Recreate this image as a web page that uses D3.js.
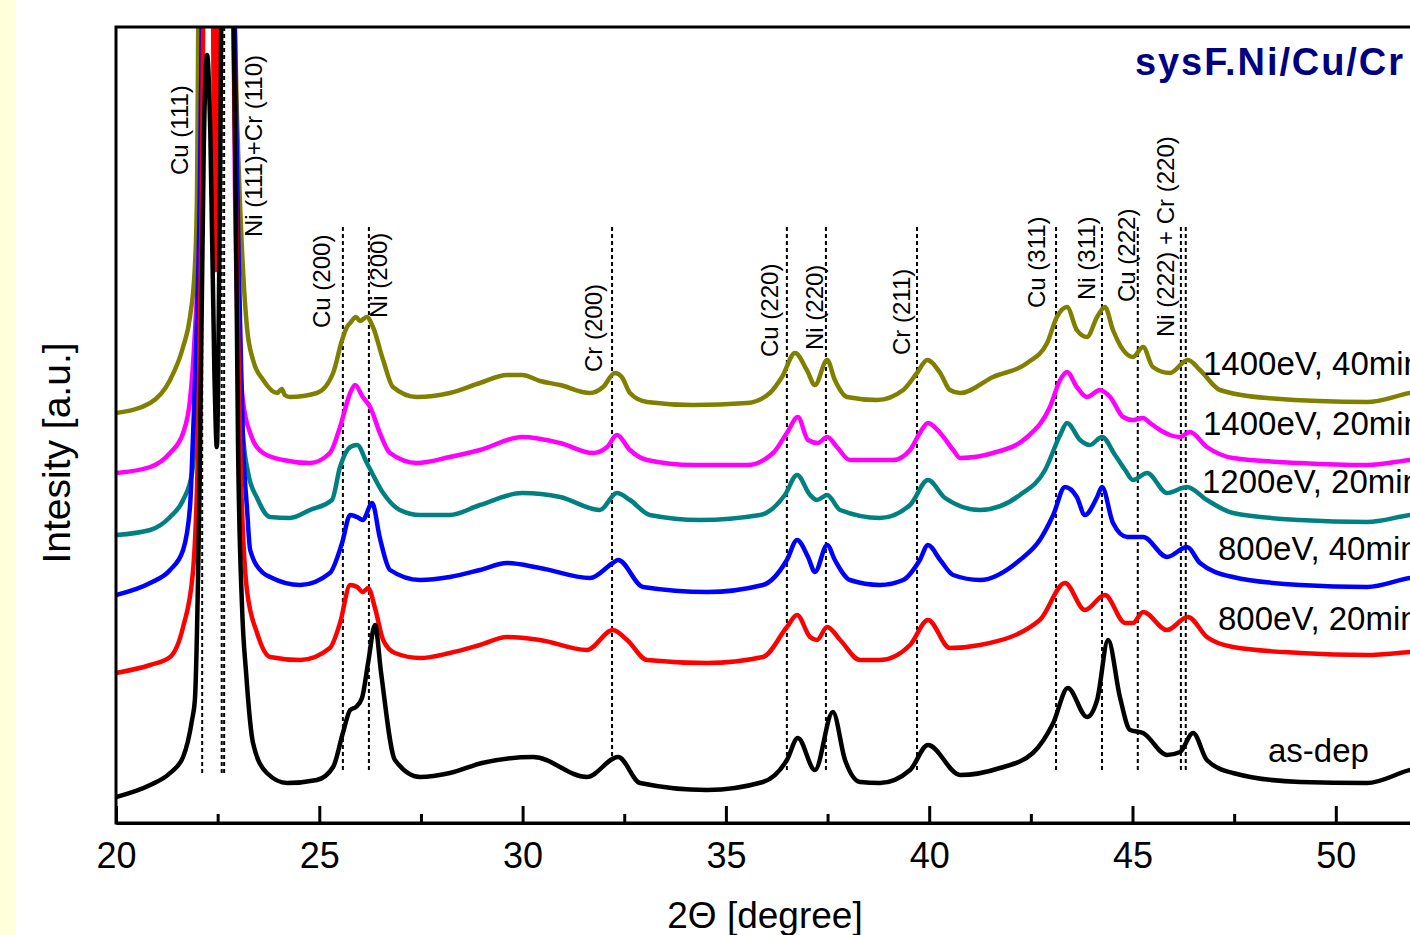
<!DOCTYPE html>
<html>
<head>
<meta charset="utf-8">
<script src="https://cdn.jsdelivr.net/npm/d3@7"></script>
<style>
  body { margin: 0; background: #fff; }
  svg { display: block; font-family: "Liberation Sans", Arial, sans-serif; }
</style>
</head>
<body>
<svg width="1410" height="935"></svg>
<script>
// XRD patterns, sysF.Ni/Cu/Cr. Values are [2theta, intensity (a.u.)]
var seriesLabels = ["1400eV, 40min", "1400eV, 20min", "1200eV, 20min", "800eV, 40min", "800eV, 20min", "as-dep"];
var seriesColors = ["#808000", "#ff00ff", "#008080", "#0000ff", "#ff0000", "#000000"];

var olive = [[20.00,410],[20.84,420],[21.33,443],[21.65,476],[21.82,506],[21.94,556],[21.99,623],[22.05,900],[22.85,900],[22.98,700],[23.12,556],[23.22,496],[23.37,463],[23.62,443],[23.96,430],[24.08,434],[24.15,428],[24.28,426],[24.94,430],[25.34,450],[25.56,483],[25.68,496],[25.76,500],[25.90,506],[26.00,502],[26.17,506],[26.32,496],[26.57,463],[26.81,436],[27.40,426],[28.21,430],[28.95,440],[29.62,448],[29.99,448],[30.43,442],[30.92,438],[31.66,430],[31.98,436],[32.27,450],[32.44,446],[32.64,430],[33.06,421],[34.19,418],[35.52,420],[36.08,430],[36.38,446],[36.70,470],[36.99,453],[37.19,438],[37.49,463],[37.68,443],[37.98,426],[38.72,423],[39.36,433],[39.70,450],[39.95,463],[40.27,450],[40.51,433],[40.76,430],[41.57,446],[42.41,460],[42.90,480],[43.14,506],[43.39,516],[43.63,493],[43.88,486],[44.13,506],[44.32,516],[44.52,493],[44.77,473],[45.01,466],[45.26,476],[45.50,456],[45.92,450],[46.36,463],[46.66,453],[47.15,433],[48.31,425],[50.77,421],[51.83,430],[52.5,434]];

var magenta = [[20.00,350],[20.84,356],[21.33,370],[21.65,390],[21.82,423],[21.94,490],[22.07,623],[22.14,900],[22.36,900],[22.45,730],[22.54,900],[22.86,900],[22.93,623],[23.00,490],[23.12,423],[23.30,390],[23.62,370],[24.11,363],[24.77,360],[25.26,370],[25.51,396],[25.76,430],[25.88,438],[26.07,426],[26.25,416],[26.49,390],[26.74,370],[27.40,360],[28.21,366],[28.95,373],[29.99,386],[30.92,380],[31.73,370],[32.08,376],[32.32,388],[32.64,373],[33.06,363],[34.19,358],[35.52,358],[36.16,370],[36.50,390],[36.77,406],[37.02,383],[37.26,380],[37.49,386],[37.73,376],[38.05,363],[39.11,363],[39.53,373],[39.77,390],[39.97,400],[40.27,390],[40.59,373],[40.76,365],[41.57,370],[42.41,386],[42.97,416],[43.22,443],[43.39,451],[43.63,436],[43.88,426],[44.20,433],[44.45,426],[44.77,406],[45.01,403],[45.26,405],[45.43,400],[45.68,393],[45.92,388],[46.17,386],[46.41,391],[46.83,376],[47.47,365],[49.12,360],[50.77,358],[51.83,363],[52.5,366]];

var teal = [[20.00,288],[20.84,293],[21.33,306],[21.65,323],[21.87,350],[21.94,383],[22.05,560],[22.15,900],[22.36,900],[22.45,693],[22.54,900],[22.85,900],[23.00,560],[23.12,390],[23.25,350],[23.47,325],[23.79,306],[24.28,305],[24.77,313],[25.31,323],[25.51,356],[25.76,376],[25.93,378],[26.17,360],[26.57,330],[26.98,313],[27.48,308],[28.21,308],[28.95,318],[29.99,330],[30.92,326],[31.90,313],[32.32,330],[32.64,323],[33.13,308],[34.36,303],[35.84,308],[36.45,328],[36.75,348],[37.07,328],[37.24,323],[37.49,328],[37.81,313],[38.79,305],[39.53,318],[39.97,343],[40.39,325],[41.25,313],[42.23,328],[42.85,353],[43.22,388],[43.39,400],[43.71,383],[43.95,378],[44.25,386],[44.57,368],[44.82,353],[45.01,343],[45.36,350],[45.85,330],[46.34,336],[46.83,323],[47.47,310],[49.12,303],[50.77,301],[51.83,308],[52.5,311]];

var blue = [[20.00,228],[20.84,240],[21.33,253],[21.65,273],[21.82,316],[21.89,383],[22.05,600],[22.16,900],[22.36,900],[22.45,623],[22.54,900],[22.84,900],[23.02,560],[23.12,383],[23.22,316],[23.30,273],[23.62,250],[23.79,246],[24.53,238],[25.26,250],[25.56,280],[25.76,308],[25.93,306],[26.07,303],[26.30,320],[26.49,285],[26.74,253],[27.48,243],[28.21,246],[28.95,253],[29.62,260],[30.43,255],[31.66,245],[32.22,260],[32.35,263],[32.96,236],[34.54,231],[35.91,238],[36.50,263],[36.75,283],[37.02,266],[37.19,251],[37.49,278],[37.68,263],[38.05,243],[38.79,238],[39.36,243],[39.77,263],[39.97,278],[40.27,263],[40.59,248],[41.25,243],[42.23,263],[42.72,283],[43.05,308],[43.34,336],[43.63,326],[43.83,308],[44.13,326],[44.25,336],[44.52,300],[44.87,286],[45.26,286],[45.85,266],[46.34,276],[46.66,260],[47.47,246],[49.12,238],[50.77,236],[51.83,245],[52.5,248]];

var red = [[20.00,150],[20.84,158],[21.33,166],[21.65,196],[21.89,250],[22.02,383],[22.10,600],[22.18,900],[22.36,900],[22.45,553],[22.54,900],[22.82,900],[22.96,600],[23.05,383],[23.22,233],[23.47,190],[23.79,166],[24.53,163],[25.26,175],[25.51,200],[25.76,238],[25.93,236],[26.07,231],[26.20,235],[26.37,215],[26.57,183],[26.86,170],[27.48,165],[28.21,170],[28.95,178],[29.62,186],[30.43,183],[31.58,173],[32.22,193],[32.57,183],[33.06,163],[34.54,160],[35.91,166],[36.50,196],[36.75,208],[37.07,186],[37.24,183],[37.49,196],[37.81,183],[38.30,163],[38.79,163],[39.53,178],[39.97,203],[40.51,175],[41.25,178],[42.72,203],[43.34,240],[43.83,213],[44.32,228],[44.82,200],[45.01,200],[45.26,211],[45.85,193],[46.36,206],[46.83,186],[47.47,176],[49.12,170],[50.77,168],[51.83,171],[52.5,173]];

var black = [[20.00,26],[20.84,38],[21.33,50],[21.65,66],[21.87,103],[21.94,123],[22.06,350],[22.16,680],[22.24,768],[22.32,690],[22.42,450],[22.48,376],[22.55,600],[22.62,900],[22.84,900],[22.95,600],[23.00,383],[23.10,216],[23.20,150],[23.37,80],[23.71,50],[24.21,40],[24.94,43],[25.34,56],[25.58,90],[25.76,113],[25.90,116],[26.05,125],[26.20,160],[26.37,198],[26.52,150],[26.86,63],[27.48,46],[28.21,50],[29.00,60],[30.26,66],[31.58,46],[32.35,66],[32.89,40],[34.54,33],[35.91,41],[36.50,63],[36.77,85],[37.19,53],[37.63,111],[37.93,63],[38.30,41],[38.79,40],[39.53,53],[39.97,78],[40.76,48],[41.74,55],[42.55,70],[43.05,100],[43.41,135],[43.88,106],[44.13,123],[44.40,183],[44.69,126],[44.94,93],[45.26,90],[45.85,68],[46.17,71],[46.49,90],[46.83,63],[47.47,50],[49.12,41],[50.77,40],[51.83,53],[52.5,58]];

var seriesData = [olive, magenta, teal, blue, red, black];

// reflection markers
var peakPos = [22.12, 22.60, 22.66, 25.58, 26.22, 32.20, 36.50, 37.46, 39.70, 43.12, 44.25, 45.13, 46.19, 46.31];
var peakLabels = ["Cu (111)", "Ni (111)+Cr (110)", "Cu (200)", "Ni (200)", "Cr (200)", "Cu (220)", "Ni (220)", "Cr (211)", "Cu (311)", "Ni (311)", "Cu (222)", "Ni (222) + Cr (220)"];

var majorTicks = [20, 25, 30, 35, 40, 45, 50];
var minorTicks = [22.5, 27.5, 32.5, 37.5, 42.5, 47.5];

var svg = d3.select("svg"),
    width = +svg.attr("width"),
    height = +svg.attr("height");

var plotLeft = 116, plotTop = 27, plotBottom = 823;

var x = d3.scaleLinear().domain([20, 55]).range([plotLeft, plotLeft + 35 * 40.66]);
var y = d3.scaleLinear().domain([0, 796]).range([plotBottom, plotTop]);
var plotW = x(55) - plotLeft, plotH = plotBottom - plotTop;

// pale strip on the left edge
svg.append("rect").attr("x", 0).attr("y", 0).attr("width", 16).attr("height", height).attr("fill", "#ffffdc");

svg.append("clipPath").attr("id", "plot")
  .append("rect").attr("x", plotLeft).attr("y", plotTop).attr("width", plotW).attr("height", plotH);

// dotted reflection lines: the first three reach the frame top, the rest start under their labels
svg.append("g").selectAll("line")
  .data(peakPos)
  .enter().append("line")
    .attr("x1", function(d) { return x(d); })
    .attr("x2", function(d) { return x(d); })
    .attr("y1", function(d, i) { return i < 3 ? plotTop : 227; })
    .attr("y2", function(d, i) { return i == 5 ? 757 : 773; })
    .attr("stroke", "#000")
    .attr("stroke-width", 2)
    .attr("stroke-dasharray", "4,3");

var line = d3.line()
    .x(function(d) { return x(d[0]); })
    .y(function(d) { return y(d[1]); })
    .curve(d3.curveMonotoneX);

svg.append("g").attr("clip-path", "url(#plot)")
  .selectAll("path")
  .data(seriesData)
  .enter().append("path")
    .attr("d", line)
    .attr("fill", "none")
    .attr("stroke", function(d, i) { return seriesColors[i]; })
    .attr("stroke-width", 4.5)
    .attr("stroke-linejoin", "round");

// frame
svg.append("rect")
  .attr("x", plotLeft).attr("y", plotTop)
  .attr("width", plotW).attr("height", plotH)
  .attr("fill", "none").attr("stroke", "#000").attr("stroke-width", 3);

// bottom axis, ticks pointing inward
var xAxis = svg.append("g")
  .attr("transform", "translate(0," + plotBottom + ")")
  .call(d3.axisBottom(x).tickValues(majorTicks).tickSizeInner(-17).tickSizeOuter(0).tickPadding(19));
xAxis.select(".domain").attr("stroke-width", 3);
xAxis.selectAll(".tick line").attr("stroke-width", 3);
xAxis.selectAll(".tick text").attr("font-size", 36).attr("font-family", "Liberation Sans, Arial, sans-serif").attr("fill", "#000");

var xMinor = svg.append("g")
  .attr("transform", "translate(0," + plotBottom + ")")
  .call(d3.axisBottom(x).tickValues(minorTicks).tickSizeInner(-9).tickSizeOuter(0).tickFormat(""));
xMinor.select(".domain").remove();
xMinor.selectAll(".tick line").attr("stroke-width", 3);

svg.append("text")
  .attr("x", 765).attr("y", 928)
  .attr("text-anchor", "middle")
  .attr("font-size", 37)
  .text("2\u0398 [degree]");

svg.append("text")
  .attr("transform", "translate(70,453) rotate(-90)")
  .attr("text-anchor", "middle")
  .attr("font-size", 39)
  .text("Intesity [a.u.]");

// rotated reflection labels
var labelBase = [[188,175],[262,237],[330,328],[387,318],[602,372],[778,357],[823,350],[910,355],[1045,308],[1095,300],[1135,302],[1174,337]];
svg.append("g").selectAll("text")
  .data(peakLabels)
  .enter().append("text")
    .attr("transform", function(d, i) { return "translate(" + labelBase[i][0] + "," + labelBase[i][1] + ") rotate(-90)"; })
    .attr("font-size", 24)
    .text(function(d) { return d; });

// series names at the right
var namePos = [[1203,375],[1203,435],[1202,493],[1218,560],[1218,630],[1268,762]];
svg.append("g").selectAll("text")
  .data(seriesLabels)
  .enter().append("text")
    .attr("x", function(d, i) { return namePos[i][0]; })
    .attr("y", function(d, i) { return namePos[i][1]; })
    .attr("font-size", 33)
    .text(function(d) { return d; });

svg.append("text")
  .attr("x", 1135).attr("y", 75)
  .attr("font-size", 38)
  .attr("font-weight", "bold")
  .attr("fill", "#000080")
  .attr("textLength", 268)
  .attr("lengthAdjust", "spacing")
  .text("sysF.Ni/Cu/Cr");
</script>
</body>
</html>
